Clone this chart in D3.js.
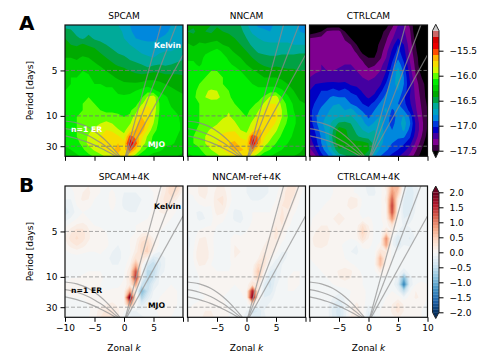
<!DOCTYPE html>
<html>
<head>
<meta charset="utf-8">
<script src="https://cdn.jsdelivr.net/npm/d3@7"></script>
<style>
body { margin: 0; background: #fff; }
text { font-family: "DejaVu Sans", sans-serif; fill: #000; }
</style>
</head>
<body>
<div id="chart"></div>
<script>
// zonal wavenumber columns, -10..10, rows run from 0.3 cpd down to 1/90 cpd
const kValues = d3.range(-10, 11);
const freqTop = 0.3;
const freqBottom = 1 / 90;

const spcam = [
[-16.58,-16.58,-16.6,-16.6,-16.6,-16.6,-16.6,-16.62,-16.64,-16.66,-16.7,-16.78,-16.84,-16.86,-16.87,-16.87,-16.85,-16.83,-16.78,-16.74,-16.7],
[-16.5,-16.52,-16.58,-16.58,-16.58,-16.58,-16.58,-16.58,-16.6,-16.62,-16.68,-16.76,-16.82,-16.84,-16.84,-16.84,-16.82,-16.8,-16.76,-16.72,-16.68],
[-16.42,-16.46,-16.52,-16.56,-16.5,-16.56,-16.58,-16.6,-16.6,-16.62,-16.66,-16.72,-16.78,-16.8,-16.8,-16.8,-16.78,-16.76,-16.74,-16.7,-16.68],
[-16.36,-16.42,-16.44,-16.4,-16.44,-16.46,-16.5,-16.54,-16.58,-16.6,-16.62,-16.66,-16.7,-16.74,-16.76,-16.76,-16.74,-16.72,-16.7,-16.68,-16.66],
[-16.32,-16.36,-16.36,-16.36,-16.34,-16.38,-16.44,-16.48,-16.52,-16.56,-16.58,-16.62,-16.64,-16.68,-16.7,-16.7,-16.68,-16.66,-16.66,-16.64,-16.62],
[-16.3,-16.3,-16.32,-16.28,-16.3,-16.34,-16.36,-16.42,-16.46,-16.5,-16.52,-16.56,-16.58,-16.62,-16.64,-16.66,-16.62,-16.6,-16.6,-16.58,-16.56],
[-16.26,-16.24,-16.26,-16.22,-16.24,-16.28,-16.32,-16.36,-16.4,-16.44,-16.46,-16.5,-16.52,-16.54,-16.6,-16.56,-16.54,-16.56,-16.54,-16.52,-16.5],
[-16.24,-16.2,-16.22,-16.18,-16.2,-16.26,-16.26,-16.3,-16.34,-16.36,-16.38,-16.42,-16.44,-16.46,-16.46,-16.44,-16.44,-16.46,-16.46,-16.46,-16.46],
[-16.22,-16.18,-16.18,-16.16,-16.16,-16.22,-16.24,-16.26,-16.28,-16.32,-16.34,-16.36,-16.38,-16.38,-16.36,-16.34,-16.36,-16.38,-16.38,-16.38,-16.4],
[-16.2,-16.18,-16.16,-16.14,-16.12,-16.18,-16.18,-16.2,-16.2,-16.24,-16.28,-16.28,-16.28,-16.26,-16.22,-16.24,-16.26,-16.3,-16.32,-16.34,-16.36],
[-16.18,-16.16,-16.14,-16.1,-16.08,-16.12,-16.14,-16.16,-16.16,-16.2,-16.22,-16.22,-16.18,-16.14,-16.12,-16.16,-16.2,-16.24,-16.28,-16.3,-16.32],
[-16.14,-16.14,-16.12,-16.08,-16.06,-16.08,-16.1,-16.12,-16.12,-16.16,-16.16,-16.14,-16.12,-16.08,-15.92,-15.86,-16.1,-16.16,-16.22,-16.26,-16.28],
[-16.12,-16.12,-16.1,-16.06,-16.06,-16.06,-16.08,-16.08,-16.1,-16.12,-16.12,-16.1,-16.1,-15.96,-15.84,-15.84,-16.06,-16.12,-16.2,-16.22,-16.26],
[-16.12,-16.1,-16.08,-16.06,-16.06,-16.06,-16.06,-16.08,-16.08,-16.08,-16.1,-16.08,-16,-15.8,-15.76,-15.86,-16.06,-16.1,-16.16,-16.2,-16.24],
[-16.12,-16.08,-16.06,-16.06,-16.04,-16.04,-16.02,-16.02,-16.02,-16.04,-16.06,-16.04,-15.86,-15.7,-15.74,-15.9,-16.08,-16.1,-16.14,-16.16,-16.22],
[-16.12,-16.08,-16.06,-16.04,-16,-16,-15.94,-15.9,-15.94,-16.04,-16.06,-15.96,-15.76,-15.58,-15.76,-15.94,-16.1,-16.1,-16.12,-16.16,-16.2],
[-16.1,-16.08,-16.06,-16.06,-15.98,-15.9,-15.86,-15.82,-15.84,-15.92,-16,-15.8,-15.68,-15.62,-15.84,-16.02,-16.1,-16.12,-16.12,-16.16,-16.2],
[-16.12,-16.1,-16.06,-16.02,-15.92,-15.86,-15.82,-15.78,-15.76,-15.8,-15.88,-15.52,-15.62,-15.78,-15.96,-16.08,-16.1,-16.14,-16.14,-16.18,-16.2],
[-16.16,-16.12,-16.1,-16.02,-15.9,-15.84,-15.8,-15.76,-15.72,-15.7,-15.78,-15.34,-15.52,-15.86,-16,-16.1,-16.12,-16.16,-16.16,-16.2,-16.24],
[-16.2,-16.18,-16.14,-16.08,-16,-15.92,-15.86,-15.8,-15.72,-15.66,-15.74,-15.5,-15.72,-16,-16.1,-16.14,-16.16,-16.2,-16.22,-16.24,-16.28],
[-16.26,-16.24,-16.2,-16.16,-16.1,-16.04,-15.98,-15.92,-15.84,-15.74,-15.8,-15.84,-16.04,-16.14,-16.18,-16.22,-16.24,-16.28,-16.3,-16.3,-16.32]
];

const nncam = [
[-16.42,-16.4,-16.4,-16.42,-16.42,-16.44,-16.44,-16.46,-16.48,-16.54,-16.64,-16.74,-16.8,-16.81,-16.79,-16.77,-16.74,-16.72,-16.74,-16.8,-16.84],
[-16.42,-16.44,-16.38,-16.42,-16.44,-16.38,-16.42,-16.44,-16.46,-16.5,-16.6,-16.68,-16.74,-16.76,-16.78,-16.76,-16.74,-16.74,-16.74,-16.78,-16.8],
[-16.36,-16.38,-16.34,-16.38,-16.36,-16.34,-16.36,-16.38,-16.42,-16.46,-16.54,-16.62,-16.66,-16.68,-16.7,-16.7,-16.7,-16.7,-16.72,-16.74,-16.74],
[-16.28,-16.32,-16.28,-16.28,-16.26,-16.24,-16.3,-16.32,-16.36,-16.42,-16.5,-16.56,-16.6,-16.64,-16.64,-16.64,-16.64,-16.64,-16.66,-16.66,-16.66],
[-16.24,-16.24,-16.24,-16.2,-16.18,-16.14,-16.2,-16.26,-16.32,-16.36,-16.42,-16.5,-16.56,-16.58,-16.58,-16.58,-16.58,-16.58,-16.58,-16.56,-16.56],
[-16.2,-16.2,-16.22,-16.16,-16.14,-16.08,-16.14,-16.2,-16.24,-16.3,-16.36,-16.42,-16.48,-16.5,-16.52,-16.52,-16.5,-16.5,-16.5,-16.5,-16.5],
[-16.16,-16.16,-16.2,-16.14,-16.08,-16.08,-16.12,-16.16,-16.2,-16.24,-16.3,-16.36,-16.4,-16.44,-16.44,-16.44,-16.46,-16.46,-16.46,-16.44,-16.44],
[-16.12,-16.1,-16.14,-16.08,-16.06,-16.06,-16.08,-16.12,-16.14,-16.18,-16.24,-16.28,-16.32,-16.36,-16.4,-16.38,-16.38,-16.4,-16.4,-16.42,-16.42],
[-16.1,-16.08,-16.08,-16.06,-16.06,-16.06,-16.06,-16.08,-16.1,-16.14,-16.18,-16.22,-16.26,-16.3,-16.3,-16.3,-16.32,-16.34,-16.36,-16.38,-16.38],
[-16.1,-16.08,-16.06,-16.05,-16.04,-16.04,-16.06,-16.08,-16.1,-16.14,-16.14,-16.18,-16.2,-16.22,-16.22,-16.22,-16.26,-16.3,-16.32,-16.36,-16.38],
[-16.1,-16.08,-16.04,-15.96,-15.92,-15.94,-16.04,-16.06,-16.1,-16.12,-16.14,-16.16,-16.16,-16.14,-16.12,-16.12,-16.16,-16.24,-16.3,-16.34,-16.38],
[-16.1,-16.08,-16.02,-15.94,-15.9,-15.92,-15.96,-16.05,-16.08,-16.1,-16.12,-16.12,-16.1,-16.04,-15.92,-15.88,-16.06,-16.16,-16.26,-16.32,-16.34],
[-16.1,-16.08,-16.06,-16.05,-16,-15.98,-15.96,-15.98,-16.06,-16.08,-16.1,-16.08,-16.04,-15.92,-15.82,-15.82,-15.98,-16.1,-16.2,-16.28,-16.3],
[-16.1,-16.08,-16.06,-16.06,-16.05,-16.02,-15.98,-15.95,-16.02,-16.06,-16.08,-16.04,-15.95,-15.82,-15.76,-15.8,-15.94,-16.08,-16.18,-16.24,-16.28],
[-16.1,-16.08,-16.06,-16.06,-16.05,-16.02,-15.96,-15.92,-15.98,-16.04,-16.06,-16,-15.86,-15.76,-15.7,-15.78,-15.94,-16.06,-16.16,-16.22,-16.26],
[-16.12,-16.1,-16.06,-16.04,-16,-15.95,-15.88,-15.88,-15.92,-16,-16.04,-15.9,-15.76,-15.7,-15.72,-15.84,-16,-16.08,-16.16,-16.22,-16.26],
[-16.12,-16.08,-16.04,-15.98,-15.92,-15.88,-15.84,-15.84,-15.84,-15.94,-15.98,-15.82,-15.68,-15.72,-15.82,-15.92,-16.04,-16.12,-16.18,-16.22,-16.26],
[-16.1,-16.06,-16,-15.94,-15.88,-15.84,-15.8,-15.76,-15.74,-15.84,-15.88,-15.46,-15.6,-15.8,-15.9,-16,-16.08,-16.14,-16.2,-16.24,-16.28],
[-16.12,-16.06,-16.02,-15.94,-15.88,-15.82,-15.76,-15.7,-15.68,-15.74,-15.78,-15.34,-15.6,-15.88,-15.98,-16.06,-16.12,-16.18,-16.22,-16.26,-16.3],
[-16.16,-16.12,-16.08,-16,-15.94,-15.88,-15.82,-15.74,-15.68,-15.68,-15.72,-15.6,-15.8,-16,-16.06,-16.14,-16.18,-16.22,-16.26,-16.28,-16.32],
[-16.2,-16.18,-16.14,-16.08,-16.02,-15.98,-15.9,-15.86,-15.8,-15.78,-15.8,-15.9,-16.04,-16.14,-16.18,-16.22,-16.26,-16.28,-16.3,-16.32,-16.36]
];

const ctrlcam = [
[-17.6,-17.6,-17.6,-17.6,-17.6,-17.6,-17.6,-17.6,-17.6,-17.6,-17.6,-17.6,-17.6,-17.55,-17.42,-17.26,-17.26,-17.4,-17.6,-17.6,-17.6],
[-17.6,-17.55,-17.5,-17.36,-17.34,-17.34,-17.5,-17.6,-17.6,-17.6,-17.6,-17.6,-17.55,-17.46,-17.34,-17.2,-17.24,-17.36,-17.6,-17.6,-17.6],
[-17.38,-17.36,-17.34,-17.32,-17.28,-17.28,-17.4,-17.5,-17.6,-17.6,-17.6,-17.6,-17.52,-17.4,-17.28,-17.14,-17.2,-17.34,-17.55,-17.6,-17.6],
[-17.32,-17.32,-17.3,-17.28,-17.28,-17.3,-17.34,-17.38,-17.5,-17.6,-17.6,-17.58,-17.46,-17.36,-17.2,-17.02,-17.14,-17.32,-17.5,-17.6,-17.6],
[-17.28,-17.27,-17.27,-17.27,-17.29,-17.27,-17.28,-17.34,-17.4,-17.55,-17.6,-17.55,-17.44,-17.3,-17.12,-16.98,-17.1,-17.3,-17.48,-17.6,-17.6],
[-17.28,-17.28,-17.27,-17.28,-17.35,-17.28,-17.27,-17.27,-17.34,-17.42,-17.5,-17.5,-17.4,-17.26,-17.06,-16.92,-17.06,-17.28,-17.44,-17.6,-17.6],
[-17.27,-17.27,-17.26,-17.27,-17.28,-17.27,-17.26,-17.26,-17.28,-17.34,-17.44,-17.4,-17.3,-17.2,-17,-16.82,-17,-17.24,-17.42,-17.6,-17.6],
[-17.27,-17.27,-17.26,-17.26,-17.26,-17.25,-17.25,-17.26,-17.26,-17.3,-17.34,-17.3,-17.26,-17.14,-16.94,-16.72,-16.94,-17.2,-17.4,-17.55,-17.6],
[-17.26,-17.24,-17.24,-17.24,-17.22,-17.2,-17.22,-17.24,-17.24,-17.26,-17.28,-17.26,-17.22,-17.08,-16.88,-16.7,-16.9,-17.16,-17.36,-17.5,-17.6],
[-17.2,-17.14,-17.12,-17.1,-17.1,-17.12,-17.1,-17.16,-17.18,-17.22,-17.24,-17.22,-17.16,-17,-16.82,-16.74,-16.9,-17.12,-17.32,-17.46,-17.55],
[-17.14,-17.08,-17.02,-17.02,-16.98,-17.02,-16.98,-17.04,-17.08,-17.16,-17.2,-17.18,-17.06,-16.92,-16.8,-16.78,-16.94,-17.12,-17.3,-17.44,-17.55],
[-17.12,-17.06,-16.96,-16.92,-16.88,-16.9,-16.9,-16.98,-17,-17.1,-17.16,-17.1,-16.96,-16.86,-16.78,-16.84,-17,-17.14,-17.28,-17.42,-17.55],
[-17.1,-17,-16.92,-16.88,-16.8,-16.78,-16.84,-16.9,-16.94,-17.02,-17.06,-16.98,-16.88,-16.8,-16.84,-16.9,-16.98,-17.12,-17.26,-17.4,-17.52],
[-17.08,-16.94,-16.88,-16.82,-16.72,-16.74,-16.78,-16.72,-16.84,-16.92,-16.98,-16.9,-16.82,-16.76,-16.92,-16.86,-16.9,-17.06,-17.24,-17.38,-17.5],
[-17.08,-16.92,-16.82,-16.76,-16.7,-16.66,-16.66,-16.64,-16.72,-16.8,-16.92,-16.84,-16.76,-16.8,-16.98,-16.84,-16.76,-16.92,-17.2,-17.36,-17.5],
[-17.1,-16.94,-16.8,-16.72,-16.62,-16.52,-16.5,-16.54,-16.64,-16.74,-16.84,-16.76,-16.72,-16.86,-16.94,-16.84,-16.72,-16.88,-17.16,-17.34,-17.5],
[-17.12,-17,-16.84,-16.74,-16.54,-16.34,-16.4,-16.48,-16.58,-16.66,-16.72,-16.66,-16.72,-16.84,-16.9,-16.84,-16.76,-16.94,-17.16,-17.34,-17.52],
[-17.16,-17.04,-16.88,-16.74,-16.5,-16.3,-16.38,-16.46,-16.52,-16.58,-16.6,-16.6,-16.72,-16.82,-16.88,-16.88,-16.88,-17,-17.2,-17.38,-17.55],
[-17.22,-17.08,-16.9,-16.76,-16.54,-16.3,-16.4,-16.38,-16.36,-16.36,-16.42,-16.6,-16.74,-16.84,-16.9,-16.94,-17,-17.1,-17.28,-17.44,-17.6],
[-17.3,-17.16,-16.96,-16.82,-16.62,-16.44,-16.44,-16.36,-16.32,-16.32,-16.4,-16.66,-16.8,-16.88,-16.96,-17.02,-17.1,-17.2,-17.36,-17.5,-17.6],
[-17.42,-17.28,-17.08,-16.94,-16.8,-16.62,-16.56,-16.5,-16.46,-16.42,-16.52,-16.78,-16.9,-16.98,-17.06,-17.12,-17.2,-17.3,-17.44,-17.55,-17.6]
];

const spcam4k = [
[-.05,0,.02,.05,.1,.05,0,-.05,-.05,-.08,-.05,-.05,-.08,-.05,0,0,.05,.15,.4,.45,.1],
[-.08,-.05,.05,.1,.12,.05,0,-.05,.05,-.08,-.1,-.1,-.1,-.08,-.05,0,.05,.2,.4,.25,.05],
[-.1,-.1,.05,.12,.1,0,-.05,-.05,.08,-.05,-.12,-.14,-.12,-.1,-.05,0,.1,.25,.25,.1,0],
[-.2,-.15,0,.05,.02,-.02,-.05,-.05,.05,-.05,-.12,-.15,-.12,-.08,-.05,0,.1,.2,.12,.02,-.05],
[-.25,-.18,-.05,0,-.02,-.05,-.05,-.05,0,-.05,-.08,-.1,-.1,-.08,-.05,.05,.1,.12,.05,-.02,-.05],
[-.15,-.08,0,.02,0,-.05,-.05,-.05,-.05,-.05,-.05,-.05,-.05,-.02,0,.05,.1,.05,0,-.05,-.05],
[-.03,.05,.12,.15,.08,0,-.02,-.05,-.05,-.05,-.05,-.02,0,.02,.05,.08,.05,0,-.03,-.05,-.05],
[.05,.18,.28,.25,.12,.02,.05,0,-.05,-.05,-.05,-.02,0,.05,.1,.06,0,-.03,-.05,-.05,-.05],
[.1,.25,.32,.25,.12,.03,.08,.02,-.05,-.05,-.02,0,.05,.25,.3,.1,0,-.05,-.05,-.05,-.05],
[.05,.15,.22,.15,.06,.02,.1,.03,-.05,-.1,-.05,0,.1,.35,.4,.15,-.02,-.05,-.05,-.03,-.03],
[-.02,.02,.05,.02,0,0,.02,-.03,-.1,-.12,-.08,-.02,.15,.35,.45,.05,-.1,-.08,-.05,-.03,-.02],
[-.05,-.05,-.05,-.05,-.03,-.03,-.03,-.08,-.12,-.12,-.08,.02,.3,.25,.05,-.3,-.2,-.1,-.05,-.03,-.02],
[-.05,-.05,-.05,-.03,-.02,-.02,-.03,-.08,-.1,-.1,-.05,.1,.7,.1,-.35,-.5,-.25,-.1,-.05,-.03,-.03],
[-.03,-.03,-.03,-.02,0,0,0,-.05,-.08,-.08,-.02,.2,1.3,0,-.55,-.5,-.2,-.08,-.05,-.05,-.05],
[-.02,0,0,.02,.03,.02,.02,-.02,-.05,-.05,0,.25,1.5,-.1,-.55,-.4,-.1,-.05,-.03,-.03,-.05],
[0,.02,.02,.03,.05,.03,0,-.02,-.03,-.02,.02,.2,.8,-.4,-.5,-.2,-.08,-.03,0,-.02,-.05],
[0,.02,.02,.02,.03,.02,0,0,.02,.02,.05,.8,.15,-.9,-.45,-.1,-.03,0,.02,0,-.05],
[-.03,0,0,0,0,0,.02,.05,.05,.05,.1,2.1,.15,-.6,-.25,-.05,0,.02,.02,0,-.05],
[-.05,-.03,-.03,-.02,0,.02,.05,.1,.12,.08,.05,.9,.02,-.25,-.1,-.05,.02,.03,.03,0,-.05],
[-.08,-.05,-.05,-.03,-.02,.05,.15,.22,.22,.12,0,-.1,-.1,-.05,-.05,-.02,.02,.03,.02,-.02,-.05],
[-.1,-.08,-.05,-.03,0,.05,.2,.28,.28,.12,-.05,-.2,-.2,-.12,-.08,-.03,0,.02,0,-.03,-.05]
];

const nncam4k = [
[-.02,.02,.12,.14,.05,.1,.12,.02,-.05,-.08,-.1,-.15,-.18,-.15,-.08,-.03,.02,.2,.3,.05,-.03],
[0,.02,.12,.15,.03,.15,.18,.03,-.05,-.08,-.1,-.18,-.2,-.15,-.08,-.03,.08,.3,.25,.02,-.03],
[-.02,-.02,.08,.1,.02,.2,.22,.05,-.05,-.05,-.06,-.12,-.12,-.08,-.05,0,.12,.3,.15,0,-.05],
[-.05,-.05,-.02,.02,0,.2,.2,.02,-.08,-.05,-.02,-.03,-.03,-.02,-.02,.02,.2,.25,.08,-.03,-.05],
[-.08,-.08,-.12,-.08,-.03,.15,.12,-.03,-.12,-.12,-.03,0,0,0,0,.05,.22,.15,.02,-.05,-.05],
[-.08,-.06,-.12,-.1,-.02,.05,.02,-.05,-.12,-.14,-.05,0,.02,.02,.02,.12,.25,.1,-.03,-.05,-.05],
[-.08,-.05,-.05,-.02,0,0,-.02,-.05,-.06,-.08,-.03,.02,.05,.03,.03,.2,.2,.03,-.05,-.05,-.05],
[-.1,-.05,.02,.05,.02,-.02,-.03,-.03,-.02,-.03,0,.02,.03,.02,.06,.25,.12,-.03,-.05,-.05,-.05],
[-.14,-.05,.1,.12,.02,-.03,-.05,-.02,.05,.02,.02,.02,.02,.03,.15,.22,.05,-.05,-.06,-.05,-.05],
[-.15,-.03,.15,.15,.02,-.03,-.08,-.05,.1,.08,.02,0,0,.1,.2,.12,-.03,-.08,-.05,-.03,-.03],
[-.12,0,.2,.2,.03,-.03,-.1,-.05,.12,.1,.02,0,.02,.2,.2,.03,-.1,-.1,-.05,-.03,-.02],
[-.1,0,.2,.2,.02,-.03,-.08,-.03,.1,.05,0,0,.1,.28,.08,-.08,-.15,-.08,-.03,-.02,-.02],
[-.08,-.02,.12,.1,0,-.02,-.05,-.02,.03,.02,0,.02,.35,.25,-.05,-.18,-.1,-.05,-.02,-.02,-.02],
[-.05,-.03,.02,.02,0,0,0,0,0,0,0,.08,.55,.1,-.2,-.22,-.08,-.03,0,0,-.02],
[-.03,-.03,0,0,0,.02,.02,.02,0,0,0,.1,.45,-.05,-.3,-.18,-.05,0,.02,0,-.02],
[-.03,-.02,0,.02,.02,.03,.03,.02,0,0,.02,.3,.2,-.2,-.35,-.12,-.03,0,.02,0,-.02],
[-.03,-.02,0,.02,.02,.02,.02,0,-.02,0,.05,1.6,.15,-.22,-.28,-.08,-.02,0,0,-.02,-.03],
[-.03,-.02,-.02,0,0,0,0,-.02,-.03,-.02,.02,1.9,.1,-.2,-.15,-.05,-.02,-.02,-.02,-.02,-.03],
[-.02,0,.02,.05,.05,.05,.02,-.02,-.02,-.02,-.03,.25,-.1,-.15,-.08,-.03,-.02,-.02,-.02,-.02,-.03],
[0,.03,.05,.1,.1,.05,.03,0,-.02,-.05,-.1,-.35,-.3,-.1,-.05,-.02,-.02,-.02,-.02,-.02,-.03],
[.02,.05,.08,.12,.12,.08,.05,0,-.03,-.06,-.15,-.25,-.25,-.12,-.05,-.03,-.02,-.02,-.02,-.02,-.03]
];

const ctrlcam4k = [
[-.03,-.03,-.03,-.02,0,.05,.1,.05,-.03,-.08,-.12,-.1,-.03,.15,.7,.7,-.1,-.25,-.12,-.05,-.03],
[-.03,-.05,-.08,-.03,0,.02,.05,.02,-.02,-.05,-.12,-.12,-.03,.1,.9,.5,-.15,-.3,-.15,-.05,-.03],
[-.05,-.1,-.08,-.02,.02,.05,.03,.15,.12,-.02,-.08,-.08,-.03,.15,1.2,.2,-.2,-.3,-.12,-.05,-.03],
[-.05,-.05,-.02,.03,.03,.02,.05,.18,.12,-.03,-.05,-.05,-.03,.1,1.4,.1,-.25,-.28,-.1,-.03,-.03],
[-.03,-.02,.02,.05,.05,.1,.08,.05,.02,-.03,-.03,-.03,-.02,.1,1.3,.1,-.25,-.22,-.08,-.03,-.03],
[-.02,.02,.06,.08,.1,.14,.1,.02,0,0,.02,-.02,-.02,.08,.9,.05,-.2,-.15,-.05,-.03,-.03],
[-.02,.05,.1,.1,.1,.1,.05,0,.05,.3,.1,-.03,-.02,.02,.25,-.02,-.12,-.08,-.03,-.03,-.03],
[.03,.1,.14,.12,.08,.05,.02,0,.08,.45,.15,-.03,-.03,.3,.1,-.12,-.12,-.15,-.06,-.03,-.03],
[.05,.15,.15,.12,.06,.03,.02,0,.05,.3,.1,-.03,-.03,.95,-.05,-.3,-.12,-.22,-.08,-.02,-.03],
[.05,.12,.12,.1,.05,.02,-.02,-.08,-.1,.05,.03,-.03,.03,.8,-.08,-.28,-.1,-.12,-.05,-.02,-.03],
[.02,.05,.08,.1,.1,.06,-.02,-.1,-.12,-.05,-.02,-.03,.3,.2,-.03,-.08,-.05,-.03,-.02,-.02,-.03],
[0,.03,.06,.1,.1,.06,0,-.05,-.08,-.05,-.03,-.03,.65,.1,-.02,-.03,-.03,-.02,-.02,-.02,-.02],
[-.02,0,.02,.04,.04,.02,.02,.02,-.02,-.03,-.03,0,.6,.08,-.02,-.03,-.05,-.03,-.02,-.02,-.02],
[-.03,-.02,0,.02,.05,.12,.2,.12,.03,-.02,-.03,-.02,.15,.02,-.03,-.05,-.15,-.05,-.02,-.02,-.02],
[-.05,-.03,-.02,0,.03,.1,.15,.1,.05,0,-.03,-.03,-.02,-.02,-.03,-.15,-.9,-.15,-.02,-.02,-.02],
[-.05,-.03,-.03,-.02,0,.03,.03,.05,.03,0,-.03,-.03,-.02,-.02,-.03,-.25,-1.35,-.2,0,.02,0],
[-.05,-.05,-.05,-.03,-.03,-.05,-.03,0,.02,.02,-.02,-.03,-.03,-.02,0,-.1,-.5,-.03,.1,.1,.02],
[-.05,-.05,-.03,-.03,-.1,-.18,-.08,.02,.05,.03,-.03,-.03,-.03,0,.03,.05,-.05,.03,.12,.08,0],
[-.05,-.05,-.03,-.05,-.2,-.3,-.12,.05,.12,.05,-.08,-.05,-.02,.02,.1,.25,.08,0,.03,.02,-.02],
[-.05,-.03,-.03,-.05,-.25,-.35,-.15,.08,.15,.05,-.2,-.1,0,.03,.12,.25,.1,0,0,0,-.02],
[-.05,-.03,-.03,-.05,-.22,-.35,-.15,.1,.15,.05,-.28,-.12,0,.03,.08,.12,.05,0,0,0,-.02]
];

// theoretical wave curves, read as [k, frequency] for the three depths
const kelvinEnds = [[10, 0.478], [10, 0.338], [10, 0.234]];
const erK = [-10, -9, -8, -7, -6, -5, -4, -3, -2, -1, -0.6];
const erFreq = [
    [.0888, .0872, .0845, .0802, .0743, .0664, .0565, .0446, .0309, .0158, .0095],
    [.0721, .0697, .0663, .0619, .0563, .0494, .0413, .0322, .022, .0112, .0068],
    [.0562, .0534, .05, .0459, .0411, .0356, .0294, .0226, .0154, .0078, .0047]
];

const periodTicks = [5, 10, 30];
const kTicks = [-10, -5, 0, 5, 10];
const powerTicks = [-17.5, -17, -16.5, -16, -15.5];
const diffTicks = [-2, -1.5, -1, -0.5, 0, 0.5, 1, 1.5, 2];
const powerLevels = d3.range(0, 21).map(i => -17.5 + i * 0.12);
const diffLevels = d3.range(0, 41).map(i => -2 + i * 0.1);

// nipy_spectral stops
const spectral = d3.scaleLinear()
    .domain(d3.range(0, 21).map(i => i / 20))
    .range(["#000000", "#770088", "#880099", "#0000aa", "#0000dd", "#0077dd", "#0099dd", "#00aaaa", "#00aa88", "#009900", "#00bb00", "#00dd00", "#00ff00", "#bbff00", "#eeee00", "#ffcc00", "#ff9900", "#ff0000", "#dd0000", "#cc0000", "#cccccc"]);
const powerColor = v => spectral((v + 17.5) / 2.4);
// RdBu_r stops
const rdbu = d3.scaleLinear()
    .domain(d3.range(0, 11).map(i => -2 + i * 0.4))
    .range(["#053061", "#2166ac", "#4393c3", "#92c5de", "#d1e5f0", "#f7f7f7", "#fddbc7", "#f4a582", "#d6604d", "#b2182b", "#67001f"]);
const diffColor = v => rdbu(v);

const panels = [
    { title: "SPCAM", grid: spcam, row: 0, col: 0, labels: [-10, -5, 0, 5] },
    { title: "NNCAM", grid: nncam, row: 0, col: 1, labels: [-5, 0, 5] },
    { title: "CTRLCAM", grid: ctrlcam, row: 0, col: 2, labels: [-5, 0, 5, 10] },
    { title: "SPCAM+4K", grid: spcam4k, row: 1, col: 0, labels: [-10, -5, 0, 5] },
    { title: "NNCAM-ref+4K", grid: nncam4k, row: 1, col: 1, labels: [-5, 0, 5] },
    { title: "CTRLCAM+4K", grid: ctrlcam4k, row: 1, col: 2, labels: [-5, 0, 5, 10] }
];

const w = 498, h = 361;
const colLeft = [65, 187.5, 309.5];
const rowTop = [25, 186];
const pw = 118, ph = 131.3;
const fontSize = 9;

const svg = d3.select("#chart").append("svg").attr("width", w).attr("height", h);

panels.forEach((p, idx) => {
    p.grid.forEach((r, i) => { if (r.length != 21) throw new Error(p.title + " row " + i + " has " + r.length); });
    if (p.grid.length != 21) throw new Error(p.title + " rows " + p.grid.length);

    const top = p.row == 0;
    const levels = top ? powerLevels : diffLevels;
    const color = top ? powerColor : diffColor;
    const left = colLeft[p.col], upper = rowTop[p.row];

    const x = d3.scaleLinear().domain([-10, 10]).range([left, left + pw]);
    const y = d3.scaleLinear().domain([freqBottom, freqTop]).range([upper + ph, upper]);

    const clipId = "clip" + idx;
    svg.append("clipPath").attr("id", clipId).append("rect")
        .attr("x", left).attr("y", upper).attr("width", pw).attr("height", ph);
    const g = svg.append("g").attr("clip-path", "url(#" + clipId + ")");

    // under colour first
    g.append("rect").attr("x", left).attr("y", upper).attr("width", pw).attr("height", ph)
        .attr("fill", top ? "#000" : "#053061");

    // grid index -> data coords, contours puts a value at index + 0.5
    const rowStep = (freqBottom - freqTop) / (p.grid.length - 1);
    const project = d3.geoTransform({
        point(px, py) {
            this.stream.point(x(kValues[0] + px - 0.5), y(freqTop + (py - 0.5) * rowStep));
        }
    });
    const path = d3.geoPath(project);

    const contours = d3.contours().size([kValues.length, p.grid.length]).thresholds(levels)(d3.merge(p.grid));
    g.selectAll("path.fill").data(contours).enter().append("path")
        .attr("class", "fill")
        .attr("d", path)
        .attr("fill", (d, i) => {
            if (i == levels.length - 1) return color(levels[i] + (top ? 0.12 : 0.05));
            return color((levels[i] + levels[i + 1]) / 2);
        });

    // period guides
    g.selectAll("line.guide").data(periodTicks).enter().append("line")
        .attr("class", "guide")
        .attr("x1", left).attr("x2", left + pw)
        .attr("y1", d => y(1 / d)).attr("y2", d => y(1 / d))
        .attr("stroke", "#777").attr("stroke-opacity", top ? 0.85 : 0.6)
        .attr("stroke-width", 1).attr("stroke-dasharray", "4,2");

    // wave curves
    const waveStroke = s => s.attr("fill", "none").attr("stroke", top ? "#8a8a8a" : "#999")
        .attr("stroke-opacity", 0.8).attr("stroke-width", 1.2);
    g.selectAll("line.kelvin").data(kelvinEnds).enter().append("line")
        .attr("class", "kelvin")
        .attr("x1", x(0)).attr("y1", y(0))
        .attr("x2", d => x(d[0])).attr("y2", d => y(d[1]))
        .call(waveStroke);
    const erLine = d3.line().x((d, i) => x(erK[i])).y(d => y(d)).curve(d3.curveMonotoneX);
    g.selectAll("path.er").data(erFreq).enter().append("path")
        .attr("class", "er").attr("d", erLine).call(waveStroke);

    // frame
    svg.append("rect").attr("x", left).attr("y", upper).attr("width", pw).attr("height", ph)
        .attr("fill", "none").attr("stroke", "#111").attr("stroke-width", 1.2);

    // axes
    const xAxis = svg.append("g").attr("transform", "translate(0," + (upper + ph) + ")")
        .call(d3.axisBottom(x).tickValues(kTicks).tickSize(4.5).tickPadding(3)
            .tickFormat(d => (!top && p.labels.includes(d)) ? d3.format("d")(d) : ""));
    xAxis.select(".domain").remove();
    xAxis.selectAll("text").attr("font-size", fontSize).style("font-family", '"DejaVu Sans"');
    if (!top) {
        svg.append("text").attr("x", left + pw / 2).attr("y", 351).attr("text-anchor", "middle")
            .attr("font-size", fontSize)
            .html('Zonal <tspan font-style="italic">k</tspan>');
    }
    if (p.col == 0) {
        const yAxis = svg.append("g").attr("transform", "translate(" + left + ",0)")
            .call(d3.axisLeft(y).tickValues(periodTicks.map(d => 1 / d)).tickSize(4.5).tickPadding(3)
                .tickFormat(d => Math.round(1 / d)));
        yAxis.select(".domain").remove();
        yAxis.selectAll("text").attr("font-size", fontSize).style("font-family", '"DejaVu Sans"');
        svg.append("text")
            .attr("transform", "translate(33," + (upper + ph / 2) + ") rotate(-90)")
            .attr("text-anchor", "middle").attr("font-size", fontSize)
            .text("Period [days]");

        const note = top ? "#fff" : "#000";
        const addNote = (txt, nx, ny, anchor) => svg.append("text")
            .attr("x", nx).attr("y", ny).attr("text-anchor", anchor)
            .attr("font-size", 7.7).attr("font-weight", "bold")
            .style("fill", note).text(txt);
        addNote("Kelvin", 167.5, upper + 23, "middle");
        addNote("n=1 ER", 71, upper + 107, "start");
        addNote("MJO", 156.5, upper + 122, "middle");
    }

    svg.append("text").attr("x", left + pw / 2).attr("y", upper - 6.5).attr("text-anchor", "middle")
        .attr("font-size", fontSize).text(p.title);
});

// panel letters
svg.append("text").attr("x", 19).attr("y", 30).attr("font-size", 20).attr("font-weight", "bold").text("A");
svg.append("text").attr("x", 19).attr("y", 192).attr("font-size", 20).attr("font-weight", "bold").text("B");

// colorbars
function colorbar(levels, color, under, over, scale, ticks, tipTop, tipBottom) {
    const barX = 432.5, barW = 6.5;
    const g = svg.append("g");
    const lo = levels[0], hi = levels[levels.length - 1];
    g.selectAll("rect").data(levels.slice(0, -1)).enter().append("rect")
        .attr("x", barX).attr("width", barW)
        .attr("y", (d, i) => scale(levels[i + 1]))
        .attr("height", (d, i) => scale(levels[i]) - scale(levels[i + 1]) + 0.3)
        .attr("fill", (d, i) => color((levels[i] + levels[i + 1]) / 2));
    const mid = barX + barW / 2;
    g.append("path").attr("d", d3.line()([[barX, scale(hi)], [mid, tipTop], [barX + barW, scale(hi)]]) + "Z").attr("fill", over);
    g.append("path").attr("d", d3.line()([[barX, scale(lo)], [mid, tipBottom], [barX + barW, scale(lo)]]) + "Z").attr("fill", under);
    g.append("path")
        .attr("d", d3.line()([[barX, scale(hi)], [mid, tipTop], [barX + barW, scale(hi)], [barX + barW, scale(lo)], [mid, tipBottom], [barX, scale(lo)]]) + "Z")
        .attr("fill", "none").attr("stroke", "#222").attr("stroke-width", 1);
    const axis = svg.append("g").attr("transform", "translate(" + (barX + barW) + ",0)")
        .call(d3.axisRight(scale).tickValues(ticks).tickSize(4.5).tickPadding(6).tickFormat(d3.format(".1f")));
    axis.select(".domain").remove();
    axis.selectAll("text").attr("font-size", fontSize).style("font-family", '"DejaVu Sans"');
}

colorbar(powerLevels, powerColor, "#000", "#cccccc",
    d3.scaleLinear().domain([-17.5, -15.5]).range([150.7, 50.7]), powerTicks, 24.3, 157.7);
colorbar(diffLevels, diffColor, "#053061", "#67001f",
    d3.scaleLinear().domain([-2, 2]).range([312.3, 192.3]), diffTicks, 186, 318.5);
</script>
</body>
</html>
